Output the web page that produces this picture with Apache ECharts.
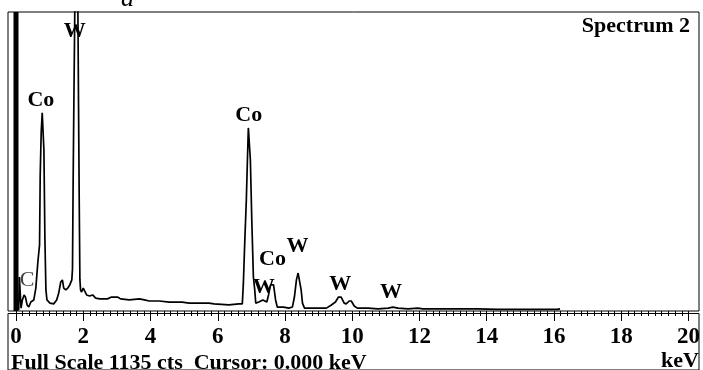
<!DOCTYPE html>
<html>
<head>
<meta charset="utf-8">
<script src="https://cdn.jsdelivr.net/npm/echarts@6/dist/echarts.min.js"></script>
<style>html,body{margin:0;padding:0;background:#fff;}#c{width:703px;height:370px;}</style>
</head>
<body>
<div id="c"></div>
<script>
// EDS spectrum: energy (keV) and counts
const energies = [0.08,0.10,0.13,0.15,0.19,0.24,0.28,0.33,0.38,0.44,0.53,0.59,0.65,0.70,0.72,0.75,0.78,0.81,0.83,0.86,0.89,0.92,1.01,1.12,1.21,1.27,1.33,1.38,1.42,1.48,1.54,1.60,1.66,1.68,1.70,1.72,1.75,1.84,1.86,1.88,1.90,1.92,1.95,2.00,2.04,2.10,2.19,2.28,2.37,2.49,2.72,2.84,3.02,3.11,3.37,3.67,3.82,3.96,4.26,4.56,4.94,5.15,5.74,5.89,6.33,6.63,6.73,6.76,6.80,6.85,6.88,6.91,6.94,6.97,7.01,7.06,7.10,7.13,7.22,7.34,7.46,7.51,7.57,7.66,7.72,7.77,7.96,8.11,8.22,8.28,8.34,8.39,8.43,8.48,8.52,8.58,9.00,9.23,9.38,9.50,9.59,9.67,9.76,9.82,9.91,9.97,10.06,10.15,10.47,10.77,11.07,11.21,11.36,11.66,11.95,12.10,12.54,13.73,14.32,15.50,16.09,16.18];
const counts   = [4,129,129,11,42,61,53,23,15,34,42,87,186,250,516,680,752,752,611,270,80,42,30,27,42,68,110,118,87,80,87,99,118,160,500,780,1160,1160,780,421,120,80,72,87,80,61,57,61,49,46,46,53,53,46,42,46,42,38,38,34,34,30,30,27,23,27,27,99,250,421,562,695,695,573,357,129,80,30,34,42,34,61,99,99,42,15,15,11,15,53,118,144,137,80,30,11,11,11,23,34,53,53,30,27,38,38,19,11,11,8,11,15,11,8,11,8,8,8,6,6,6,8];
// off-scale noise peak at 0 keV
const zeroPeakKeV = [0];
const zeroPeakCounts = [1135];
// peak labels
const peakNames  = ['C','Co','W','Co','Co','W','W','W','W'];
const peakKeV    = [0.33,0.74,1.75,6.92,7.63,8.37,7.37,9.64,11.15];
const peakCounts = [118,801,1063,742,195,247,91,101,70];
const xTickLabels = ['0','2','4','6','8','10','12','14','16','18','20'];
const fullScale = 1135;

const serif = 'Liberation Serif';
const chart = echarts.init(document.getElementById('c'), null, {renderer:'canvas'});
const lineData = energies.map((e,i)=>[e,counts[i]]);
const labelData = peakNames.map((n,i)=>({name:n, value:[peakKeV[i], peakCounts[i]],
  label: n === 'C' ? {fontWeight:'normal', color:'#444'} : undefined}));

chart.setOption({
  animation:false,
  backgroundColor:'#fff',
  grid:[
    {left:16, top:12, width:676, height:299, show:false},
    {left:8, top:12, right:4, height:299, show:true, borderColor:'#000', borderWidth:1, backgroundColor:'transparent'},
    {left:8, top:313.5, right:4, bottom:-20, show:true, borderColor:'#000', borderWidth:1, backgroundColor:'transparent'}
  ],
  xAxis:[
    {type:'value', gridIndex:0, min:0, max:20, interval:2, position:'bottom', offset:2.5,
     axisLine:{show:false},
     axisTick:{show:true, length:10, lineStyle:{color:'#000', width:1}},
     minorTick:{show:true, splitNumber:10, length:5, lineStyle:{color:'#000', width:1}},
     splitLine:{show:false}, minorSplitLine:{show:false},
     axisLabel:{show:true, margin:12, color:'#000', fontFamily:serif, fontWeight:'bold', fontSize:23,
       formatter:(v)=>xTickLabels[Math.round(v/2)]}},
    {type:'value', gridIndex:1, min:0, max:20, show:false},
    {type:'value', gridIndex:2, min:0, max:20, show:false}
  ],
  yAxis:[
    {type:'value', gridIndex:0, min:0, max:fullScale, show:false},
    {type:'value', gridIndex:1, min:0, max:1, show:false},
    {type:'value', gridIndex:2, min:0, max:1, show:false}
  ],
  series:[
    {type:'bar', xAxisIndex:0, yAxisIndex:0, barWidth:5, itemStyle:{color:'#000'},
     data: zeroPeakKeV.map((e,i)=>[e, zeroPeakCounts[i]])},
    {type:'line', xAxisIndex:0, yAxisIndex:0, data:lineData, showSymbol:false, symbol:'none',
     lineStyle:{color:'#000', width:1.7}, clip:true},
    {type:'scatter', xAxisIndex:0, yAxisIndex:0, symbolSize:0, itemStyle:{opacity:0}, data:labelData,
     label:{show:true, position:'inside', formatter:'{b}', color:'#000', textBorderWidth:0, opacity:1,
       fontFamily:serif, fontWeight:'bold', fontSize:22}}
  ],
  graphic:[
    {type:'text', right:13, top:15, style:{text:'Spectrum 2', font:'bold 22px "Liberation Serif"', fill:'#000'}},
    {type:'text', left:11, top:352, style:{text:'Full Scale 1135 cts  Cursor: 0.000 keV', font:'bold 22px "Liberation Serif"', fill:'#000'}},
    {type:'text', right:4, top:350, style:{text:'keV', font:'bold 22px "Liberation Serif"', fill:'#000'}},
    {type:'text', left:121, top:-14, style:{text:'a', font:'italic 26px "Liberation Serif"', fill:'#000'}}
  ]
});
</script>
</body>
</html>
